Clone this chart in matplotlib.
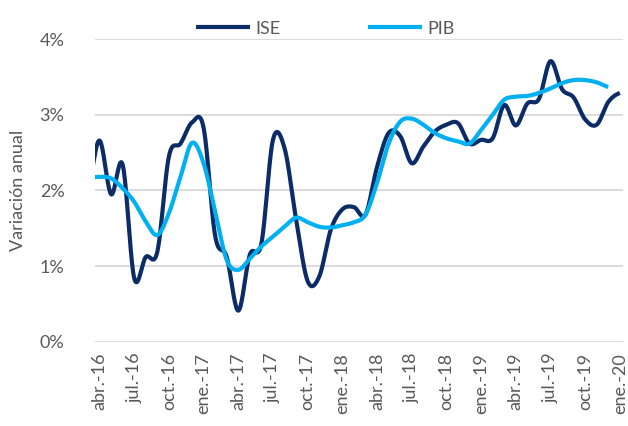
import numpy as np
import matplotlib
matplotlib.use("Agg")
import matplotlib.pyplot as plt

# monthly data, mar.-16 (clipped at the left edge) to ene.-20
months = ["mar.-16",
          "abr.-16", "may.-16", "jun.-16", "jul.-16", "ago.-16", "sep.-16",
          "oct.-16", "nov.-16", "dic.-16", "ene.-17", "feb.-17", "mar.-17",
          "abr.-17", "may.-17", "jun.-17", "jul.-17", "ago.-17", "sep.-17",
          "oct.-17", "nov.-17", "dic.-17", "ene.-18", "feb.-18", "mar.-18",
          "abr.-18", "may.-18", "jun.-18", "jul.-18", "ago.-18", "sep.-18",
          "oct.-18", "nov.-18", "dic.-18", "ene.-19", "feb.-19", "mar.-19",
          "abr.-19", "may.-19", "jun.-19", "jul.-19", "ago.-19", "sep.-19",
          "oct.-19", "nov.-19", "dic.-19", "ene.-20"]

ise = [2.05,
       2.66, 1.95, 2.34, 0.84, 1.12, 1.19,
       2.45, 2.62, 2.90, 2.83, 1.40, 1.12,
       0.41, 1.15, 1.30, 2.67, 2.56, 1.62,
       0.80, 0.86, 1.48, 1.75, 1.78, 1.68,
       2.31, 2.76, 2.72, 2.36, 2.58, 2.78,
       2.87, 2.89, 2.62, 2.67, 2.69, 3.13,
       2.86, 3.15, 3.21, 3.71, 3.34, 3.23,
       2.94, 2.87, 3.17, 3.29]

pib = [2.17,
       2.18, 2.16, 2.03, 1.85, 1.59, 1.41,
       1.70, 2.18, 2.63, 2.36, 1.72, 1.08,
       0.95, 1.10, 1.26, 1.39, 1.52, 1.64,
       1.58, 1.52, 1.51, 1.54, 1.58, 1.68,
       2.10, 2.62, 2.91, 2.95, 2.87, 2.76,
       2.69, 2.65, 2.62, 2.80, 3.00, 3.20,
       3.24, 3.25, 3.29, 3.35, 3.42, 3.46,
       3.46, 3.43, 3.37]

tick_labels = ["abr.-16", "jul.-16", "oct.-16", "ene.-17", "abr.-17", "jul.-17",
               "oct.-17", "ene.-18", "abr.-18", "jul.-18", "oct.-18", "ene.-19",
               "abr.-19", "jul.-19", "oct.-19", "ene.-20"]


def smooth(y, n=20):
    # catmull-rom curve through the points, like excel's smoothed line
    y = np.asarray(y, dtype=float)
    x = np.arange(len(y)) - 1.0
    p = np.concatenate([[y[0]], y, [y[-1]]])
    xs, ys = [], []
    for i in range(len(y) - 1):
        p0, p1, p2, p3 = p[i], p[i + 1], p[i + 2], p[i + 3]
        t = np.linspace(0, 1, n, endpoint=False)
        m1 = (p2 - p0) / 2
        m2 = (p3 - p1) / 2
        h = (2*t**3 - 3*t**2 + 1)*p1 + (t**3 - 2*t**2 + t)*m1 \
            + (-2*t**3 + 3*t**2)*p2 + (t**3 - t**2)*m2
        xs.append(x[i] + t)
        ys.append(h)
    xs.append([x[-1]])
    ys.append([y[-1]])
    return np.concatenate(xs), np.concatenate(ys)


plt.rcParams["font.family"] = ["Lato", "DejaVu Sans"]
grey = "#595959"

fig = plt.figure(figsize=(6.28, 4.26), dpi=100)
ax = fig.add_axes([0.1513, 0.198, 0.8407, 0.7098])

ax.yaxis.grid(True, color="#d9d9d9", linewidth=1.3)
ax.set_axisbelow(True)

xi, yi = smooth(ise)
ax.plot(xi, yi, color="#0B2C66", linewidth=3, label="ISE", solid_capstyle="butt")
xp, yp = smooth(pib)
ax.plot(xp, yp, color="#00B0F0", linewidth=3, label="PIB", solid_capstyle="butt")

ax.set_xlim(-0.39, 45.27)
ax.set_ylim(0, 4)
ax.set_yticks([0, 1, 2, 3, 4])
ax.set_yticklabels(["0%", "1%", "2%", "3%", "4%"])
ax.set_xticks(range(0, 46, 3))
ax.set_xticklabels(tick_labels, rotation=90)

ax.tick_params(axis="both", length=0, colors=grey, labelsize=13)
ax.tick_params(axis="y", pad=22)
ax.tick_params(axis="x", pad=8)
for s in ax.spines.values():
    s.set_visible(False)

ax.set_ylabel("Variación anual", fontsize=13, color=grey, labelpad=10)

fig.legend(loc="upper center", bbox_to_anchor=(0.518, 0.99), ncol=2, frameon=False,
           fontsize=13, labelcolor=grey, handlelength=3.0, columnspacing=4.8,
           handletextpad=0.3)

plt.savefig("out.png", dpi=100)
